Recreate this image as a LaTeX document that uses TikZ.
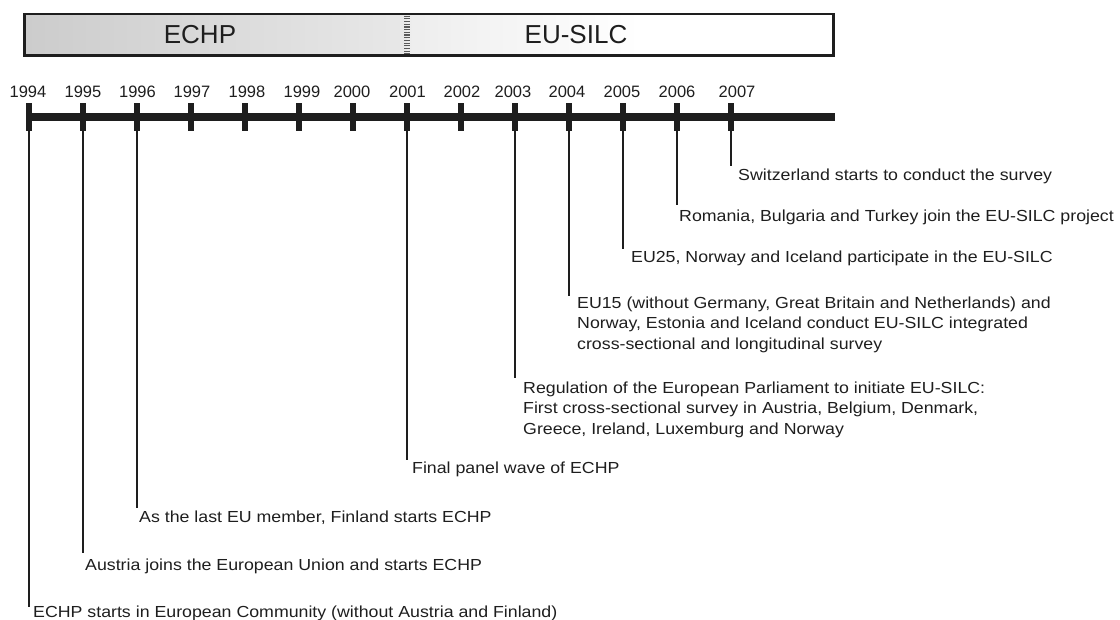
\documentclass[tikz,border=0pt]{standalone}
\usepackage{fontspec}
\setmainfont{Liberation Sans}
\newfontfamily\bodyfont[FakeStretch=1.11]{Liberation Sans}
\usetikzlibrary{calc}
\definecolor{ink}{HTML}{1E1E1E}
\tikzset{
  axisline/.style={line width=7.4pt, ink},
  tickmark/.style={fill=ink, draw=none},
  leader/.style={line width=2pt, ink},
  yearlabel/.style={anchor=base, inner sep=0pt, font=\fontsize{16.5}{19}\selectfont, text=ink},
  eventtext/.style={anchor=base west, inner sep=0pt, align=left, font=\bodyfont\fontsize{16}{20.5}\selectfont, text=ink},
  titletext/.style={anchor=base, inner sep=0pt, font=\fontsize{26}{30}\selectfont, text=ink},
}
\begin{document}
\begin{tikzpicture}[x=1pt, y=-1pt]
\useasboundingbox (0,0) rectangle (1120,619);
% period bar
\shade[left color=black!20, right color=black!9] (24.5,14) rectangle (407,55.5);
\shade[left color=black!7, right color=white] (407,14) rectangle (640,55.5);
\fill[white] (640,14) rectangle (833.5,55.5);
\draw[line width=6pt, black!65, dash pattern=on 1.2pt off 1.5pt] (407,15.5) -- (407,54);
\draw[line width=2.6pt, ink] (24.5,14) rectangle (833.5,55.5);
\node[titletext] (echp) at (200,43.3) {ECHP};
\node[titletext] (silc) at (576,43.3) {EU-SILC};
% axis
\coordinate (axstart) at (26,117);
\coordinate (axend) at (835,117);
\draw[axisline] (axstart) -- (axend);
\foreach \yr/\tx/\lx in {1994/29/28,1995/83/83,1996/137/137.5,1997/191/192,1998/245/247,1999/299/302,2000/353/352,2001/407/407.5,2002/461/462,2003/515/513,2004/569/567,2005/623/622,2006/677/677,2007/731/737}{
  \fill[tickmark] (\tx-3,102.5) rectangle (\tx+3,130.5);
  \coordinate (t\yr) at (\tx,130);
  \node[yearlabel] (y\yr) at (\lx,97) {\yr};
}
% events
\node[eventtext] (e1994) at (33,617.5) {ECHP starts in European Community (without Austria and Finland)};
\coordinate (l1994) at (29,607);
\node[eventtext] (e1995) at (85,570) {Austria joins the European Union and starts ECHP};
\coordinate (l1995) at (83,553);
\node[eventtext] (e1996) at (139,522) {As the last EU member, Finland starts ECHP};
\coordinate (l1996) at (137,508);
\node[eventtext] (e2001) at (412,473) {Final panel wave of ECHP};
\coordinate (l2001) at (407,460);
\node[eventtext] (e2003) at (523,434) {Regulation of the European Parliament to initiate EU-SILC:\\First cross-sectional survey in Austria, Belgium, Denmark,\\Greece, Ireland, Luxemburg and Norway};
\coordinate (l2003) at (515,378);
\node[eventtext] (e2004) at (577,349) {EU15 (without Germany, Great Britain and Netherlands) and\\Norway, Estonia and Iceland conduct EU-SILC integrated\\cross-sectional and longitudinal survey};
\coordinate (l2004) at (569,296);
\node[eventtext] (e2005) at (631,262) {EU25, Norway and Iceland participate in the EU-SILC};
\coordinate (l2005) at (623,249);
\node[eventtext] (e2006) at (679,221) {Romania, Bulgaria and Turkey join the EU-SILC project};
\coordinate (l2006) at (677,205);
\node[eventtext] (e2007) at (738,180) {Switzerland starts to conduct the survey};
\coordinate (l2007) at (731,166);
\foreach \yr in {1994,1995,1996,2001,2003,2004,2005,2006,2007}{
  \draw[leader] (t\yr) -- (l\yr);
}
\end{tikzpicture}
\end{document}
